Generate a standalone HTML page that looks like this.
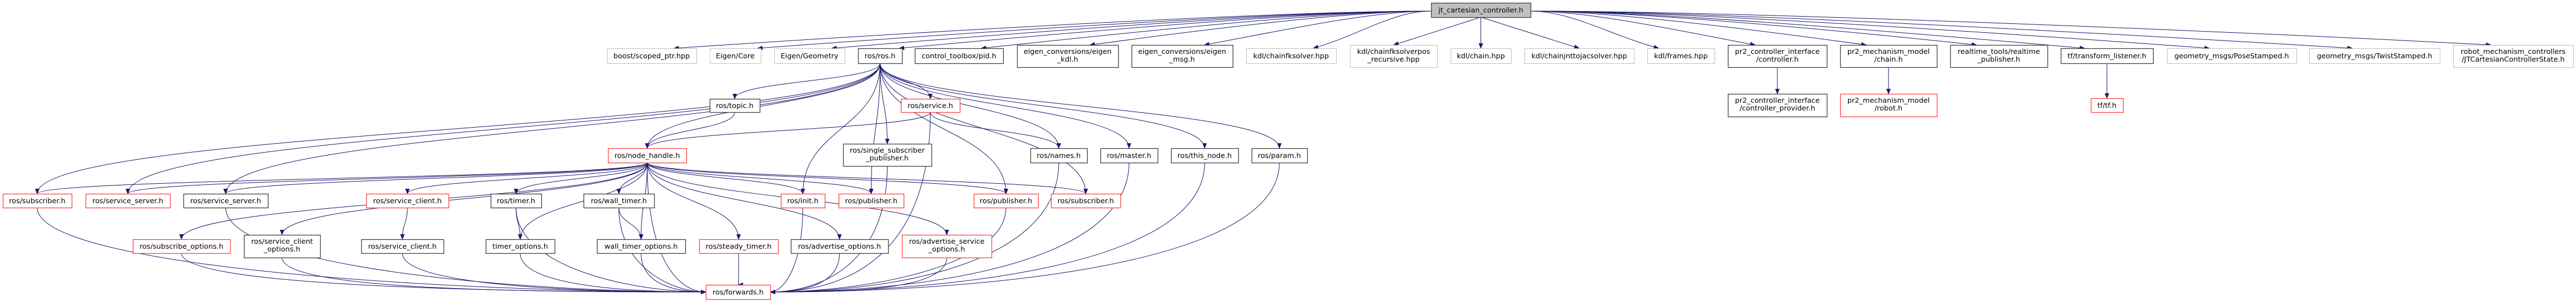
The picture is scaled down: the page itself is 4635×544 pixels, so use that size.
<!DOCTYPE html>
<html><head><meta charset="utf-8"><style>
html,body{margin:0;padding:0;background:#fff;}
svg{display:block;}
text{font-family:"DejaVu Sans","Liberation Sans",sans-serif;font-size:12.8px;fill:#000;text-anchor:middle;}
</style></head><body>
<svg id="g" width="4635" height="544" viewBox="0 0 4635 544" xmlns="http://www.w3.org/2000/svg">
<defs><marker id="a" markerWidth="10" markerHeight="8" refX="9" refY="4" orient="auto" markerUnits="userSpaceOnUse"><path d="M0,0 L10,4 L0,8 z" fill="#191970"/></marker></defs>
<g id="edges" fill="none" stroke="#191970" stroke-width="1"></g>
<g id="nodes"></g>
</svg>
<script>
var N={
root:[2575,2754,5,31,'r',['jt_cartesian_controller.h']],
boost:[1092,1253,87,114,'g',['boost/scoped_ptr.hpp']],
ecore:[1277,1369,87,114,'g',['Eigen/Core']],
egeo:[1393,1520,87,114,'g',['Eigen/Geometry']],
ros:[1544,1623,87,114,'k',['ros/ros.h']],
pid:[1646,1805,87,114,'k',['control_toolbox/pid.h']],
ekdl:[1830,2012,81,121,'k',['eigen_conversions/eigen','_kdl.h']],
emsg:[2036,2218,81,121,'k',['eigen_conversions/eigen','_msg.h']],
cfk:[2242,2404,87,114,'g',['kdl/chainfksolver.hpp']],
cfkp:[2429,2586,81,121,'g',['kdl/chainfksolverpos','_recursive.hpp']],
chain:[2610,2719,87,114,'g',['kdl/chain.hpp']],
cjac:[2743,2940,87,114,'g',['kdl/chainjnttojacsolver.hpp']],
frames:[2964,3085,87,114,'g',['kdl/frames.hpp']],
pci:[3109,3287,81,121,'k',['pr2_controller_interface','/controller.h']],
pcp:[3109,3287,169,210,'k',['pr2_controller_interface','/controller_provider.h']],
pmc:[3311,3485,81,121,'k',['pr2_mechanism_model','/chain.h']],
pmr:[3311,3485,169,210,'red',['pr2_mechanism_model','/robot.h']],
rt:[3509,3684,81,121,'k',['realtime_tools/realtime','_publisher.h']],
tfl:[3708,3874,87,114,'k',['tf/transform_listener.h']],
tf:[3762,3820,177,202,'red',['tf/tf.h']],
pose:[3899,4132,87,114,'g',['geometry_msgs/PoseStamped.h']],
twist:[4155,4390,87,114,'g',['geometry_msgs/TwistStamped.h']],
jtc:[4414,4630,81,121,'g',['robot_mechanism_controllers','/JTCartesianControllerState.h']],
topic:[1277,1367,178,202,'k',['ros/topic.h']],
service:[1621,1727,178,202,'red',['ros/service.h']],
nh:[1094,1235,267,293,'red',['ros/node_handle.h']],
ssp:[1517,1676,259,299,'k',['ros/single_subscriber','_publisher.h']],
names:[1854,1956,267,293,'k',['ros/names.h']],
master:[1980,2083,267,293,'k',['ros/master.h']],
thisn:[2107,2228,267,293,'k',['ros/this_node.h']],
param:[2252,2352,267,293,'k',['ros/param.h']],
sub1:[5,129,349,374,'red',['ros/subscriber.h']],
ss1:[154,306,349,374,'red',['ros/service_server.h']],
ss2:[330,482,349,374,'k',['ros/service_server.h']],
sc1:[659,807,349,374,'red',['ros/service_client.h']],
timer:[883,974,349,374,'k',['ros/timer.h']],
wt:[1050,1177,349,374,'k',['ros/wall_timer.h']],
init:[1405,1484,349,374,'red',['ros/init.h']],
pub1:[1509,1626,349,374,'red',['ros/publisher.h']],
pub2:[1752,1868,349,374,'red',['ros/publisher.h']],
sub2:[1891,2016,349,374,'red',['ros/subscriber.h']],
so:[239,414,431,456,'red',['ros/subscribe_options.h']],
sco:[439,576,423,464,'k',['ros/service_client','_options.h']],
sc2:[650,798,431,456,'k',['ros/service_client.h']],
to:[874,998,431,456,'k',['timer_options.h']],
wto:[1074,1233,431,456,'k',['wall_timer_options.h']],
st:[1258,1400,431,456,'red',['ros/steady_timer.h']],
ao:[1423,1598,431,456,'k',['ros/advertise_options.h']],
aso:[1623,1784,423,464,'red',['ros/advertise_service','_options.h']],
fw:[1270,1386,513,539,'red',['ros/forwards.h']]
};
var col={k:'#404040',g:'#bfbfbf',red:'#ff4040',r:'#404040'};
var ns='http://www.w3.org/2000/svg';
function el(t,a,p){var e=document.createElementNS(ns,t);for(var k in a)e.setAttribute(k,a[k]);p.appendChild(e);return e;}
var E=document.getElementById('edges'),G=document.getElementById('nodes');
function cx(n){return (N[n][0]+N[n][1])/2;}
function edge(s,t){
 var S=N[s],T=N[t],x1=cx(s),y1=S[3],x2=cx(t),y2=T[2],d;
 if(s=='root'){
   var dx=x2-x1;
   if(Math.abs(dx)>250){
     var sx=dx<0?S[0]:S[1], sy=20;
     x2=x2+(dx<0?40:-40); if(x2>T[1]-5)x2=T[1]-5; if(x2<T[0]+5)x2=T[0]+5;
     d='M'+sx+','+sy+' C'+(sx+dx*0.2)+','+sy+' '+(x2-dx*0.25)+','+(y2-25)+' '+x2+','+y2;
   } else d='M'+x1+','+y1+' L'+x2+','+y2;
 } else if(t=='fw'){
   var ex=x1<1270?1270:(x1>1386?1386:x2), ey=x1<1270||x1>1386?526:513;
   var my=Math.max(y1+60,480);
   d='M'+x1+','+y1+' C'+x1+','+my+' '+(ex+(x1-ex)*0.4)+','+ey+' '+ex+','+ey;
 } else {
   var dy=y2-y1;
   d='M'+x1+','+y1+' C'+x1+','+(y1+dy*0.5)+' '+x2+','+(y2-dy*0.5)+' '+x2+','+y2;
 }
 el('path',{d:d,'marker-end':'url(#a)'},E);
}
['boost','ecore','egeo','ros','pid','ekdl','emsg','cfk','cfkp','chain','cjac','frames','pci','pmc','rt','tfl','pose','twist','jtc'].forEach(function(t){edge('root',t);});
['sub1','ss1','ss2','nh','topic','init','pub1','ssp','service','pub2','sub2','names','master','thisn','param'].forEach(function(t){edge('ros',t);});
edge('topic','nh');edge('service','nh');edge('service','names');edge('service','fw');
['sub1','ss1','ss2','sc1','so','sco','timer','to','wt','wto','st','ao','aso','init','pub1','pub2','sub2','fw'].forEach(function(t){edge('nh',t);});
edge('timer','to');edge('wt','wto');edge('sc1','sc2');
['sub1','ss2','so','sco','sc2','timer','to','wt','wto','st','ao','aso','init','pub2','ssp','names','master','thisn','param'].forEach(function(t){edge(t,'fw');});
edge('pci','pcp');edge('pmc','pmr');edge('tfl','tf');
for(var k in N){var n=N[k];
 el('rect',{x:n[0]+0.5,y:n[2]+0.5,width:n[1]-n[0],height:n[3]-n[2],fill:n[4]=='r'?'#bfbfbf':'#fff',stroke:col[n[4]],'stroke-width':n[4]=='g'?1:1.3},G);
 var L=n[5],c=(n[0]+n[1])/2;
 for(var i=0;i<L.length;i++){var y=L.length==1?(n[2]+n[3])/2+4.5:n[2]+16+i*14;
  var tx=el('text',{x:c,y:y},G);tx.textContent=L[i];}
}
</script>
</body></html>
